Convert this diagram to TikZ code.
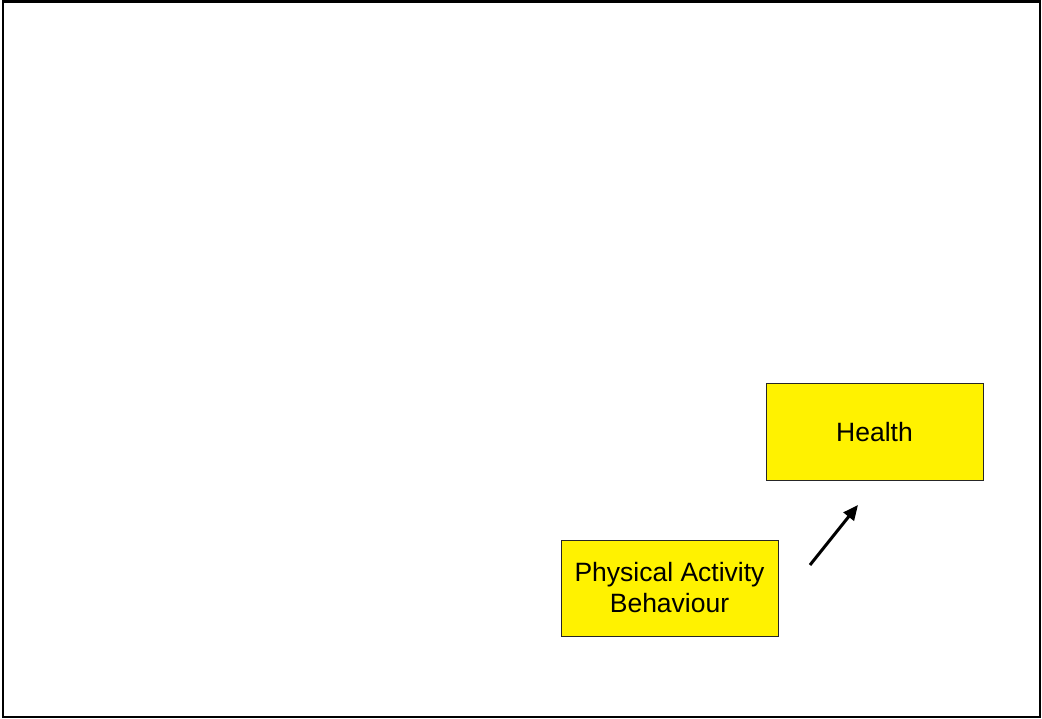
\documentclass[tikz,border=0pt]{standalone}
\usepackage{fontspec}
\setmainfont{Liberation Sans}
\usetikzlibrary{arrows.meta}
\begin{document}
\begin{tikzpicture}[x=1pt,y=-1pt,
  box/.style={draw=black!85,line width=1pt,fill=yellow,minimum width=217pt,minimum height=96pt,
    inner sep=0pt,align=center,font=\fontsize{26.5}{31}\selectfont},
  link/.style={line width=3pt,-{Triangle[length=15pt,width=13pt]}}]
\useasboundingbox (0,0) rectangle (1042,719);
\draw[line width=2.5pt] (3,1.5) rectangle (1040,717);
\node[box] (health) at (874.5,432) {Health};
\node[box] (pab) at (669.5,588) {Physical Activity\\Behaviour};
\coordinate (from) at (810,565);
\coordinate (to) at (858,505);
\draw[link] (from) -- (to);
\end{tikzpicture}
\end{document}
